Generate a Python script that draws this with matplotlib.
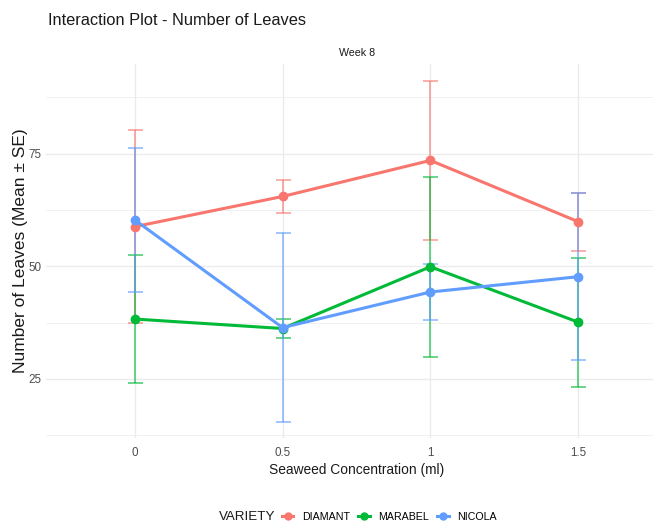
import matplotlib
matplotlib.use("Agg")
import matplotlib.pyplot as plt
from matplotlib.font_manager import FontProperties
from matplotlib.lines import Line2D

# ---- data ----
concentration = [0, 0.5, 1, 1.5]
tick_labels = ["0", "0.5", "1", "1.5"]
varieties = ["DIAMANT", "MARABEL", "NICOLA"]
diamant_mean = [58.8, 65.5, 73.5, 59.9]
diamant_se = [21.4, 3.7, 17.6, 6.4]
marabel_mean = [38.3, 36.2, 49.9, 37.6]
marabel_se = [14.2, 2.1, 20.0, 14.3]
nicola_mean = [60.3, 36.4, 44.3, 47.7]
nicola_se = [15.9, 20.9, 6.3, 18.6]
y_ticks = [25, 50, 75]
y_minor = [12.5, 37.5, 62.5, 87.5]

colors = ["#F8766D", "#00BA38", "#619CFF"]
means = [diamant_mean, marabel_mean, nicola_mean]
ses = [diamant_se, marabel_se, nicola_se]


def fp(size):
    return FontProperties(family="Liberation Sans", size=size)


W, H = 653, 527
fig = plt.figure(figsize=(W / 100, H / 100), dpi=100)
left_px, right_px, top_px, bot_px = 46, 667, 64, 438
ax = fig.add_axes([left_px / W, 1 - bot_px / H, (right_px - left_px) / W, (bot_px - top_px) / H])

for s in ax.spines.values():
    s.set_visible(False)

# grid
for y in y_minor:
    ax.axhline(y, color="#EFEFEF", lw=0.6, zorder=0)
for y in y_ticks:
    ax.axhline(y, color="#EBEBEB", lw=1.0, zorder=0)
for x in concentration:
    ax.axvline(x, color="#EBEBEB", lw=1.0, zorder=0)

for m, se, c in zip(means, ses, colors):
    ax.errorbar(concentration, m, yerr=se, fmt="none", ecolor=c, elinewidth=1.1,
                capsize=5.4, capthick=1.1, alpha=0.75, zorder=2)
for m, c in zip(means, colors):
    ax.plot(concentration, m, color=c, lw=2.2, marker="o", ms=6, zorder=3)

ax.set_xlim(-0.3, 1.8)
ax.set_ylim(11.9, 94.9)
ax.set_xticks(concentration)
ax.set_xticklabels(tick_labels)
ax.set_yticks(y_ticks)
ax.set_yticklabels([str(v) for v in y_ticks])
ax.tick_params(axis="both", length=0, colors="#4D4D4D")
ax.tick_params(axis="x", pad=6.5)
ax.tick_params(axis="y", pad=3)
for t in ax.get_xticklabels() + ax.get_yticklabels():
    t.set_fontproperties(fp(8.4))
    t.set_color("#4D4D4D")

ax.set_xlabel("Seaweed Concentration (ml)", fontproperties=fp(9.9), color="#1A1A1A")
ax.xaxis.set_label_coords(0.5, (bot_px - 470) / (bot_px - top_px))
ax.xaxis.label.set_va("center")
ax.set_ylabel("Number of Leaves (Mean ± SE)", fontproperties=fp(12.5), color="#1A1A1A")
ax.yaxis.set_label_coords((20 - left_px) / (right_px - left_px), 0.5)
ax.yaxis.label.set_va("center")

fig.text(48 / W, 1 - 25 / H, "Interaction Plot - Number of Leaves", fontproperties=fp(11.8),
         ha="left", va="baseline", color="#1A1A1A")
fig.text(357 / W, 1 - 56.5 / H, "Week 8", fontproperties=fp(7.7), ha="center",
         va="baseline", color="#1A1A1A")

fig.text(219 / W, 1 - 517 / H, "VARIETY", fontproperties=fp(9.6), ha="left",
         va="center", color="#1A1A1A")
handles = [Line2D([0], [0], color=c, lw=2.2, marker="o", ms=5) for c in colors]
fig.legend(handles, varieties, loc="center left", bbox_to_anchor=(282 / W, 1 - 517 / H),
           ncol=3, frameon=False, prop=fp(7.7), handlelength=1.05, handletextpad=0.8,
           columnspacing=0.8, borderpad=0, borderaxespad=0)

fig.savefig("out.png", dpi=100)
